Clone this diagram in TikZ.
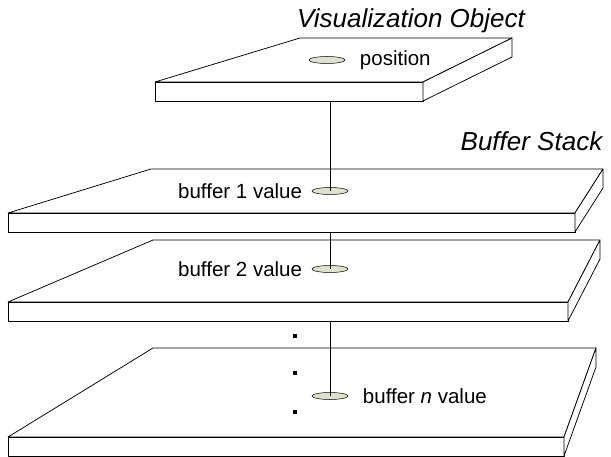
\documentclass[tikz,border=0pt]{standalone}
\usepackage{fontspec}
\setmainfont{Liberation Sans}
\usepackage{tikz}
\usetikzlibrary{positioning,shapes.geometric}

\begin{document}
\begin{tikzpicture}[x=1pt, y=-1pt, line width=0.75pt, node distance=6pt,
    slab/.style={draw=black, fill=white, line join=round},
    disc/.style={ellipse, draw=black, line width=0.5pt, fill={rgb,255:red,222;green,225;blue,205},
                 minimum width=36pt, minimum height=7pt, inner sep=0pt},
    lbl/.style={font=\fontsize{20.5}{24}\selectfont},
    ttl/.style={font=\fontsize{26}{30}\selectfont\itshape},
    dot/.style={fill=black, minimum size=3.5pt, inner sep=0pt}]
  \useasboundingbox (0,0) rectangle (611,457);

  % slabs: name / front left / front top / front right / back left / back top / back right
  \foreach \nm/\fl/\fy/\fr/\bl/\by/\br in {vis/155/82/423/300/38/512,
      bufa/8/213/575/151/169/603, bufb/8/302/568/153/240/600, bufn/8/437/564/153/348/596} {
    \draw[slab] (\fl,\fy) -- (\bl,\by) -- (\br,\by) -- (\fr,\fy) -- cycle;
    \draw[slab] (\fl,\fy) rectangle (\fr,\fy+19);
    \draw[slab] (\fr,\fy) -- (\br,\by) -- (\br,\by+19) -- (\fr,\fy+19) -- cycle;
    \coordinate (\nm-b) at (330,\fy+19);
  }

  % Visualization Object
  \node[ttl, anchor=base] (vistitle) at (411,28) {Visualization Object};
  \node[disc] (pos) at (327,60) {};
  \node[lbl, right=11pt of pos] (poslbl) {position};

  % Buffer Stack
  \node[ttl, anchor=base east] (buftitle) at (606,151) {Buffer Stack};
  \node[disc] (val1) at (330,191) {};
  \node[lbl, left=6pt of val1] (val1lbl) {buffer 1 value};
  \node[disc] (val2) at (330,269) {};
  \node[lbl, left=6pt of val2] (val2lbl) {buffer 2 value};
  \node[disc] (valn) at (330,396) {};
  \node[lbl, right=11pt of valn] (valnlbl) {buffer \textit{n} value};

  \node[dot] (d1) at (295,336) {};
  \node[dot] (d2) at (295,373) {};
  \node[dot] (d3) at (295,412) {};

  % links between the layers
  \draw (vis-b) -- (val1.center);
  \draw (bufa-b) -- (val2.center);
  \draw (bufb-b) -- (valn.center);
\end{tikzpicture}
\end{document}
